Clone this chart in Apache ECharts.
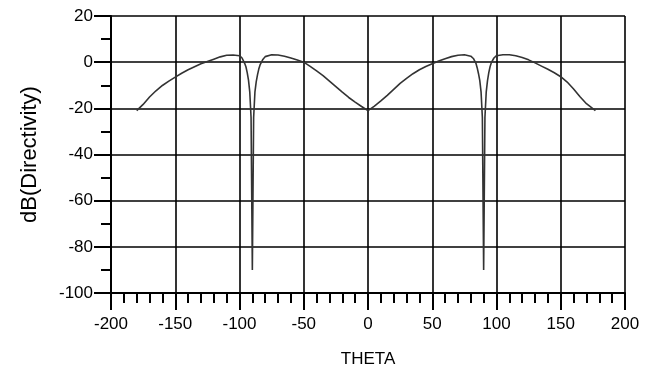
<!DOCTYPE html>
<html>
<head>
<meta charset="utf-8">
<script src="https://cdn.jsdelivr.net/npm/echarts@6/dist/echarts.min.js"></script>
<style>
  html, body { margin: 0; padding: 0; background: #fff; }
  #chart { width: 656px; height: 376px; }
</style>
</head>
<body>
<div id="chart"></div>
<script>
// Directivity pattern (dB) against angle THETA (degrees)
const theta = [
  -180, -175, -170, -165, -160, -155, -150, -145, -140, -135, -130, -125, -120,
  -115, -110, -105, -100, -98, -96, -95, -94, -93, -92, -91, -90, -89, -88, -87,
  -86, -85, -84, -82, -80, -75, -70, -65, -60, -55, -50, -45, -40, -35, -30, -25,
  -20, -15, -10, -5, 0, 5, 10, 15, 20, 25, 30, 35, 40, 45, 50, 55, 60, 65, 70,
  75, 80, 82, 84, 85, 86, 87, 88, 89, 90, 91, 92, 93, 94, 95, 96, 98, 100, 105,
  110, 115, 120, 125, 130, 135, 140, 145, 150, 155, 160, 165, 170, 177
];
const directivity = [
  -21, -18.3, -15.1, -12.4, -10.1, -8.2, -6.5, -4.8, -3.3, -2.0, -0.7, 0.3, 1.3,
  2.3, 3.0, 3.1, 2.8, 1.8, -0.5, -2.0, -4.5, -7.8, -13, -24, -90, -24, -13, -8.5,
  -5.5, -3, -1.2, 1.0, 2.4, 3.2, 3.1, 2.6, 1.8, 0.9, 0, -1.8, -3.8, -5.8, -8.2,
  -10.6, -13.0, -15.3, -17.3, -19.2, -21, -19.0, -16.8, -14.4, -11.8, -9.2,
  -7.0, -5.0, -3.3, -1.9, -0.7, 0.5, 1.5, 2.4, 3.0, 3.2, 2.6, 1.6, -0.5, -2.5,
  -5, -8, -13, -24, -90, -24, -13, -8, -4.5, -2.0, -0.2, 1.8, 2.8, 3.2, 3.2,
  2.8, 2.0, 1.0, -0.3, -1.7, -3.1, -4.6, -6.3, -8.6, -11.6, -15.0, -18.0, -21
];
const xTicks = [-200, -150, -100, -50, 0, 50, 100, 150, 200];
const yTicks = [-100, -80, -60, -40, -20, 0, 20];

const points = theta.map((t, i) => [t, directivity[i]]);

const font = 'Liberation Sans, Arial, sans-serif';
const black = '#000';

const chart = echarts.init(document.getElementById('chart'), null, { renderer: 'canvas' });
chart.setOption({
  animation: false,
  backgroundColor: '#fff',
  grid: { left: 111, right: 31, top: 16, bottom: 83, containLabel: false },
  xAxis: {
    type: 'value',
    min: xTicks[0],
    max: xTicks[xTicks.length - 1],
    interval: 50,
    name: 'THETA',
    nameLocation: 'middle',
    nameGap: 58,
    nameTextStyle: { fontFamily: font, fontSize: 17, color: black },
    axisLine: { onZero: false, lineStyle: { color: black, width: 2 } },
    axisTick: { show: true, inside: false, length: 17, lineStyle: { color: black, width: 2 } },
    minorTick: { show: true, splitNumber: 5, length: 10, lineStyle: { color: black, width: 2 } },
    axisLabel: { fontFamily: font, fontSize: 17, color: black, margin: 23 },
    splitLine: { show: true, lineStyle: { color: black, width: 1.6 } }
  },
  yAxis: {
    type: 'value',
    min: yTicks[0],
    max: yTicks[yTicks.length - 1],
    interval: 20,
    name: 'dB(Directivity)',
    nameLocation: 'middle',
    nameGap: 70,
    nameRotate: 90,
    nameTextStyle: { fontFamily: font, fontSize: 22, color: black },
    axisLine: { onZero: false, lineStyle: { color: black, width: 2 } },
    axisTick: { show: true, inside: false, length: 17, lineStyle: { color: black, width: 2 } },
    minorTick: { show: true, splitNumber: 2, length: 10, lineStyle: { color: black, width: 2 } },
    axisLabel: { fontFamily: font, fontSize: 17, color: black, margin: 18 },
    splitLine: { show: true, lineStyle: { color: black, width: 1.6 } }
  },
  series: [{
    type: 'line',
    data: points,
    showSymbol: false,
    smooth: false,
    lineStyle: { color: '#333', width: 1.6 },
    z: 5
  }]
});
</script>
</body>
</html>
